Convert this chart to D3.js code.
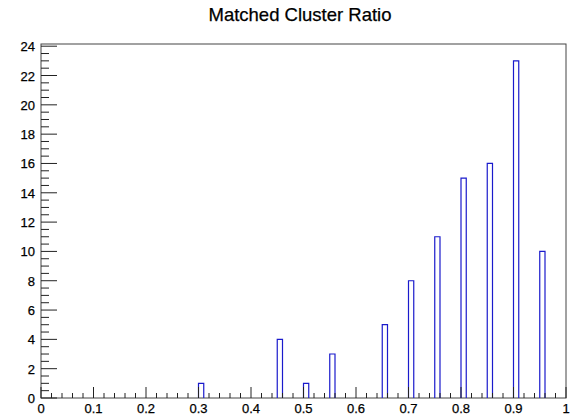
<!DOCTYPE html>
<html>
<head>
<meta charset="utf-8">
<script src="https://cdn.jsdelivr.net/npm/d3@7"></script>
<style>
  body { margin: 0; background: #fff; }
  svg { display: block; font-family: "Liberation Sans", Arial, sans-serif; }
  text { fill: #000; stroke: #000; stroke-width: 0.25px; }
</style>
</head>
<body>
<div id="chart"></div>
<script>
// Histogram data: lower edge of each non-empty bin and its count
const binStarts = [0.30, 0.45, 0.50, 0.55, 0.65, 0.70, 0.75, 0.80, 0.85, 0.90, 0.95];
const counts = [1, 4, 1, 3, 5, 8, 11, 15, 16, 23, 10];
const binWidth = 0.01;
const xTicks = [0, 0.1, 0.2, 0.3, 0.4, 0.5, 0.6, 0.7, 0.8, 0.9, 1];
const yTicks = [0, 2, 4, 6, 8, 10, 12, 14, 16, 18, 20, 22, 24];

const width = 571, height = 417;
const margin = { top: 44, right: 5, bottom: 19, left: 41 };

const svg = d3.select('#chart')
  .append('svg')
  .attr('width', width)
  .attr('height', height);

const x = d3.scaleLinear().domain([0, 1]).range([margin.left, width - margin.right]);
const y = d3.scaleLinear().domain([0, 24.15]).range([height - margin.bottom, margin.top]);

// Title
svg.append('text')
  .attr('x', 300)
  .attr('y', 21)
  .attr('text-anchor', 'middle')
  .style('font-size', '18.5px')
  .text('Matched Cluster Ratio');

// Frame
svg.append('rect')
  .attr('x', x(0))
  .attr('y', y.range()[1])
  .attr('width', x(1) - x(0))
  .attr('height', y(0) - y.range()[1])
  .attr('fill', 'none')
  .attr('stroke', '#444')
  .attr('stroke-width', 1);

// Bars (outline only, like a ROOT histogram)
svg.selectAll('.bar')
  .data(binStarts)
  .enter()
  .append('path')
  .attr('class', 'bar')
  .attr('d', (d, i) => {
    const x0 = x(d), x1 = x(d + binWidth), y0 = y(0), y1 = y(counts[i]);
    return `M${x0},${y0}V${y1}H${x1}V${y0}`;
  })
  .attr('fill', 'none')
  .attr('stroke', '#1a1acc')
  .attr('stroke-width', 1.2);

// X axis: major ticks every 0.1, minor every 0.02
const xMinor = d3.range(0, 1.0001, 0.02);
const xAxisG = svg.append('g');
xAxisG.selectAll('line')
  .data(xMinor)
  .enter()
  .append('line')
  .attr('x1', d => x(d))
  .attr('x2', d => x(d))
  .attr('y1', y(0))
  .attr('y2', d => y(0) - (Math.abs(Math.round(d * 10) - d * 10) < 1e-6 ? 11 : 5))
  .attr('stroke', '#222')
  .attr('stroke-width', 1);
xAxisG.selectAll('text')
  .data(xTicks)
  .enter()
  .append('text')
  .attr('x', d => x(d))
  .attr('y', y(0) + 15)
  .attr('text-anchor', 'middle')
  .style('font-size', '13px')
  .text(d => d3.format('~g')(d));

// Y axis: major ticks every 2, minor every 0.5
const yMinor = d3.range(0, 24.001, 0.5);
const yAxisG = svg.append('g');
yAxisG.selectAll('line')
  .data(yMinor)
  .enter()
  .append('line')
  .attr('x1', x(0))
  .attr('x2', d => x(0) + (d % 2 === 0 ? 16 : 8))
  .attr('y1', d => y(d))
  .attr('y2', d => y(d))
  .attr('stroke', '#222')
  .attr('stroke-width', 1);
yAxisG.selectAll('text')
  .data(yTicks)
  .enter()
  .append('text')
  .attr('x', x(0) - 6)
  .attr('y', d => y(d) + 5)
  .attr('text-anchor', 'end')
  .style('font-size', '13px')
  .text(d => d);
</script>
</body>
</html>
